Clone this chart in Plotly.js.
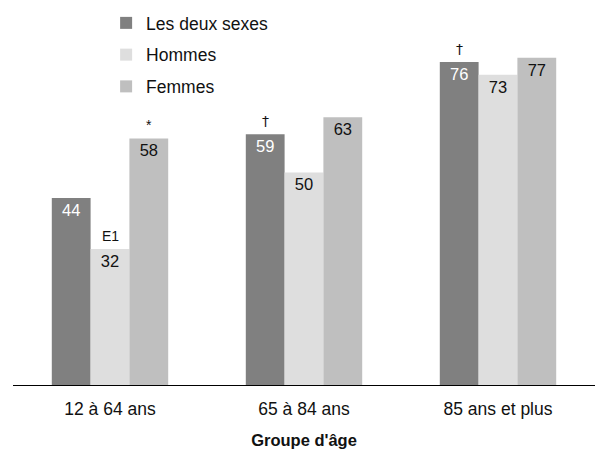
<!DOCTYPE html>
<html><head><meta charset="utf-8">
<script src="https://cdn.plot.ly/plotly-3.0.1.min.js"></script>
<style>html,body{margin:0;padding:0;background:#fff}#chart{width:595px;height:453px}</style>
</head><body><div id="chart"></div>
<script>
const categories = ["12 à 64 ans", "65 à 84 ans", "85 ans et plus"];
const seriesNames = ["Les deux sexes", "Hommes", "Femmes"];
const deuxSexes = [44, 59, 76];
const hommes = [32, 50, 73];
const femmes = [58, 63, 77];
const deuxSexesFlags = ["", "†", "†"];
const hommesFlags = ["E1", "", ""];
const femmesFlags = ["*", "", ""];
const colors = ["#808080", "#dedede", "#bfbfbf"];
const textColors = ["#ffffff", "#111111", "#111111"];

const FONT = "'Liberation Sans Narrow', 'Arial Narrow', 'Liberation Sans', Arial, sans-serif";
const seriesVals = [deuxSexes, hommes, femmes];
const seriesFlags = [deuxSexesFlags, hommesFlags, femmesFlags];

const traces = seriesVals.map((vals, i) => ({
  type: 'bar', name: seriesNames[i], x: categories, y: vals,
  marker: {color: colors[i], line: {width: 0}},
  text: vals.map(String), textposition: 'inside', insidetextanchor: 'end',
  textfont: {family: FONT, size: 16.5, color: textColors[i], weight: i === 0 ? 'normal' : 500},
  legendgroup: 'g' + i, hoverinfo: 'none'
}));

const offsets = [-1, 0, 1];
const annotations = [];
seriesFlags.forEach((flags, i) => {
  flags.forEach((f, j) => {
    if (!f) return;
    annotations.push({
      x: j, xref: 'x', y: seriesVals[i][j], yref: 'y',
      xshift: offsets[i] * 39, yshift: 13, text: f, showarrow: false,
      font: {family: f === '†' ? "'DejaVu Sans', sans-serif" : FONT, size: 14, color: '#111111'}
    });
  });
});

const layout = {
  width: 595, height: 453,
  margin: {l: 13, r: 0, t: 5, b: 68},
  paper_bgcolor: '#fff', plot_bgcolor: '#fff',
  barmode: 'group', bargap: 0.4, bargroupgap: 0,
  font: {family: FONT, size: 17.5, color: '#111'},
  xaxis: {
    showline: true, linecolor: '#000', linewidth: 1, ticks: '', showgrid: false,
    ticklabelstandoff: 8,
    tickfont: {family: FONT, size: 17.5, color: '#111'},
    title: {text: "<b>Groupe d'âge</b>", font: {family: FONT, size: 16.5, color: '#111'}, standoff: 16}
  },
  yaxis: {range: [0, 89.4], visible: false, showgrid: false, zeroline: false},
  legend: {
    x: 0.16, y: 1.0, xanchor: 'left', yanchor: 'top', orientation: 'v',
    traceorder: 'grouped', tracegroupgap: 6,
    font: {family: FONT, size: 17.5, color: '#111'}, bgcolor: 'rgba(0,0,0,0)'
  },
  annotations: annotations,
  showlegend: true
};
Plotly.newPlot('chart', traces, layout, {staticPlot: true, displayModeBar: false});
</script></body></html>
